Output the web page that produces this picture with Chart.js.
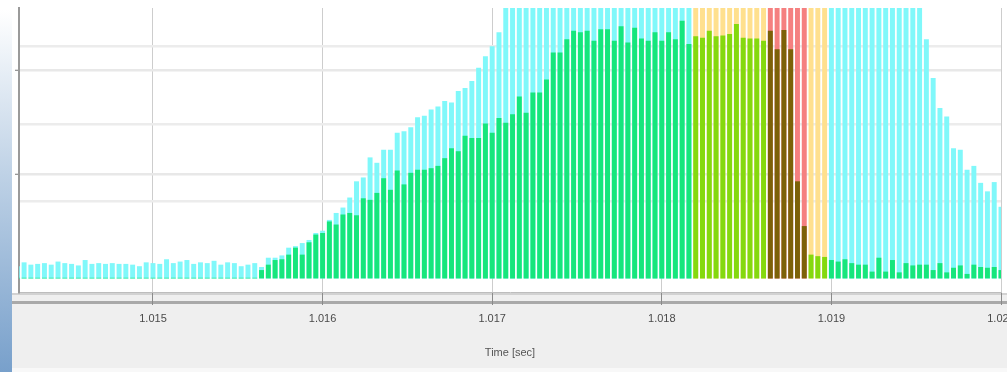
<!DOCTYPE html>
<html>
<head>
<meta charset="utf-8">
<script src="https://cdn.jsdelivr.net/npm/chart.js@4.4.1/dist/chart.umd.min.js"></script>
<style>
  html, body { margin: 0; padding: 0; background: #fff; }
  #wrap { width: 1007px; height: 372px; position: relative; }
</style>
</head>
<body>
<div id="wrap"><canvas id="chart"></canvas></div>
<script>
// time bins (sec): first bin centre and bin width
const binStart = 1.0142;
const binWidth = 0.00004;

// total signal per bin (values above 3.5 are cut off by the plot top)
const totalVals = [
  0.15,0.20,0.17,0.18,0.19,0.17,0.21,0.19,0.18,0.16,0.23,0.18,0.19,0.18,0.19,0.18,0.18,0.17,0.15,0.20,
  0.19,0.18,0.24,0.19,0.21,0.23,0.18,0.20,0.19,0.22,0.17,0.20,0.19,0.15,0.17,0.19,
  0.14,0.26,0.26,0.29,0.39,0.41,0.45,0.49,0.58,0.61,0.75,0.84,0.91,1.04,1.25,1.30,1.56,1.49,1.66,1.66,
  1.88,1.90,1.95,2.08,
  2.10,2.18,2.22,2.29,2.27,2.42,2.46,2.55,2.72,2.87,3.00,3.18,
  4,4,4,4,4,4,4,4,4,4,4,4,4,4,4,4,4,4,4,4,4,4,4,4,4,4,4,4,4,4,4,4,4,4,4,4,4,4,4,4,
  4,4,4,4,4,4,4,4,4,4,4,4,4,4,4,4,4,4,4,4,4,4,
  3.09,2.59,2.20,2.09,1.68,1.66,1.40,1.45,1.23,1.12,1.24,0.92
];

// measured signal per bin
const signalVals = [
  0,0,0,0,0,0,0,0,0,0,0,0,0,0,0,0,0,0,0,0,0,0,0,0,0,0,0,0,0,0,0,0,0,0,0,0,
  0.10,0.17,0.23,0.24,0.30,0.39,0.30,0.46,0.56,0.58,0.73,0.69,0.82,0.84,0.81,1.03,1.01,1.10,1.29,1.14,
  1.39,1.21,1.36,1.40,
  1.40,1.42,1.45,1.55,1.68,1.64,1.84,1.81,1.81,2.00,1.88,2.07,2.01,2.12,2.35,2.14,2.40,2.40,2.57,2.92,
  2.92,3.09,3.20,3.18,
  3.20,3.07,3.22,3.22,3.07,3.26,3.05,3.24,3.10,3.07,3.18,3.07,3.18,3.09,3.33,3.03,3.13,3.11,3.20,3.13,
  3.14,3.16,3.29,3.11,3.10,3.10,3.07,
  3.20,2.96,3.21,2.96,1.25,0.67,0.30,0.28,0.27,0.23,0.21,0.24,0.19,0.17,0.17,
  0.08,0.26,0.08,0.23,0.07,0.19,0.16,0.17,0.17,0.10,0.19,0.07,0.13,0.16,0.05,0.17,0.14,0.13,0.14,0.10
];

// warning / alarm time spans (sec)
const warnSpans = [[1.01818, 1.01862], [1.01886, 1.01898]];
const alarmSpans = [[1.01862, 1.01886]];

// tick values
const xTicks = [1.015, 1.016, 1.017, 1.018, 1.019, 1.020];
const yTicks = [1, 2, 3];
const y2Ticks = [1, 2];

const times = totalVals.map((v, i) => binStart + i * binWidth);

function inSpans(t, spans) {
  return spans.some(s => t >= s[0] && t < s[1]);
}

const totalColors = times.map(t =>
  inSpans(t, alarmSpans) ? '#f58080' : inSpans(t, warnSpans) ? '#ffe08e' : '#80f8fa');
const signalColors = times.map(t =>
  inSpans(t, alarmSpans) ? '#7c6208' : inSpans(t, warnSpans) ? '#84d90e' : '#16e67c');

// fonds : fond blanc, bande grise en bas, bande bleue à gauche
const backdrop = {
  id: 'backdrop',
  beforeDraw(chart) {
    const c = chart.ctx;
    const w = chart.width, h = chart.height;
    const area = chart.chartArea;
    c.save();
    c.fillStyle = '#ffffff';
    c.fillRect(0, 0, w, h);
    c.fillStyle = '#efefef';
    c.fillRect(0, area.bottom + 1, w, h - area.bottom);
    c.fillStyle = '#f8f8f8';
    c.fillRect(0, h - 4, w, 4);
    c.fillStyle = '#d2d2d2';
    c.fillRect(12, area.bottom + 1, w - 12, 2);
    c.fillStyle = '#a9a9a9';
    c.fillRect(12, area.bottom + 9, w - 12, 3);
    const g = c.createLinearGradient(0, 10, 0, h);
    g.addColorStop(0, '#ffffff');
    g.addColorStop(0.45, '#bfd2e6');
    g.addColorStop(1, '#78a0cb');
    c.fillStyle = g;
    c.fillRect(0, 0, 12, h);
    c.restore();
  }
};

const ctx = document.getElementById('chart').getContext('2d');

const chart = new Chart(ctx, {
  type: 'bar',
  data: {
    datasets: [{
      label: 'Signal',
      data: signalVals.map((v, i) => ({ x: times[i], y: v })),
      backgroundColor: signalColors,
      barThickness: 4.3,
      grouped: false,
      order: 0,
      clip: 0,
      yAxisID: 'y'
    }, {
      label: 'Total',
      data: totalVals.map((v, i) => ({ x: times[i], y: v })),
      backgroundColor: totalColors,
      barThickness: 4.3,
      grouped: false,
      order: 1,
      clip: 0,
      yAxisID: 'y'
    }]
  },
  options: {
    responsive: true,
    maintainAspectRatio: false,
    animation: false,
    devicePixelRatio: 1,
    layout: { padding: { top: 8, right: 6, left: 0, bottom: 0 } },
    plugins: {
      legend: { display: false },
      tooltip: { enabled: false }
    },
    scales: {
      x: {
        type: 'linear',
        min: 1.01421,
        max: 1.020,
        offset: false,
        afterBuildTicks: s => { s.ticks = xTicks.map(v => ({ value: v })); },
        afterFit: s => { s.height = 80; s.paddingLeft = 0; s.paddingRight = 0; },
        grid: {
          offset: false,
          color: '#cdcdcd',
          lineWidth: 1,
          tickLength: 13,
          tickColor: '#8a8a8a'
        },
        border: { display: true, color: '#bdbdbd', width: 1 },
        ticks: {
          autoSkip: false,
          maxRotation: 0,
          padding: 7,
          color: '#4a4a4a',
          font: { family: "'Liberation Sans', Arial, sans-serif", size: 11 },
          callback: v => v.toFixed(3)
        },
        title: {
          display: true,
          text: 'Time [sec]',
          color: '#555555',
          font: { family: "'Liberation Sans', Arial, sans-serif", size: 11 },
          padding: { top: 4, bottom: 12 }
        }
      },
      y: {
        type: 'linear',
        position: 'left',
        weight: 1,
        min: -0.18,
        max: 3.5,
        afterBuildTicks: s => { s.ticks = yTicks.map(v => ({ value: v })); },
        afterFit: s => { s.width = 0; },
        grid: { color: '#ececec', lineWidth: 2.5, drawTicks: false },
        border: { display: false },
        ticks: { display: false }
      },
      y2: {
        type: 'linear',
        position: 'left',
        weight: 0,
        min: -0.135,
        max: 2.596,
        afterBuildTicks: s => { s.ticks = y2Ticks.map(v => ({ value: v })); },
        afterFit: s => { s.width = 19; },
        grid: { color: '#e8e8e8', lineWidth: 2.5, tickLength: 4, tickColor: '#777777', tickWidth: 1 },
        border: { display: true, color: '#9a9a9a', width: 2 },
        ticks: { display: false }
      }
    }
  },
  plugins: [backdrop]
});
</script>
</body>
</html>
